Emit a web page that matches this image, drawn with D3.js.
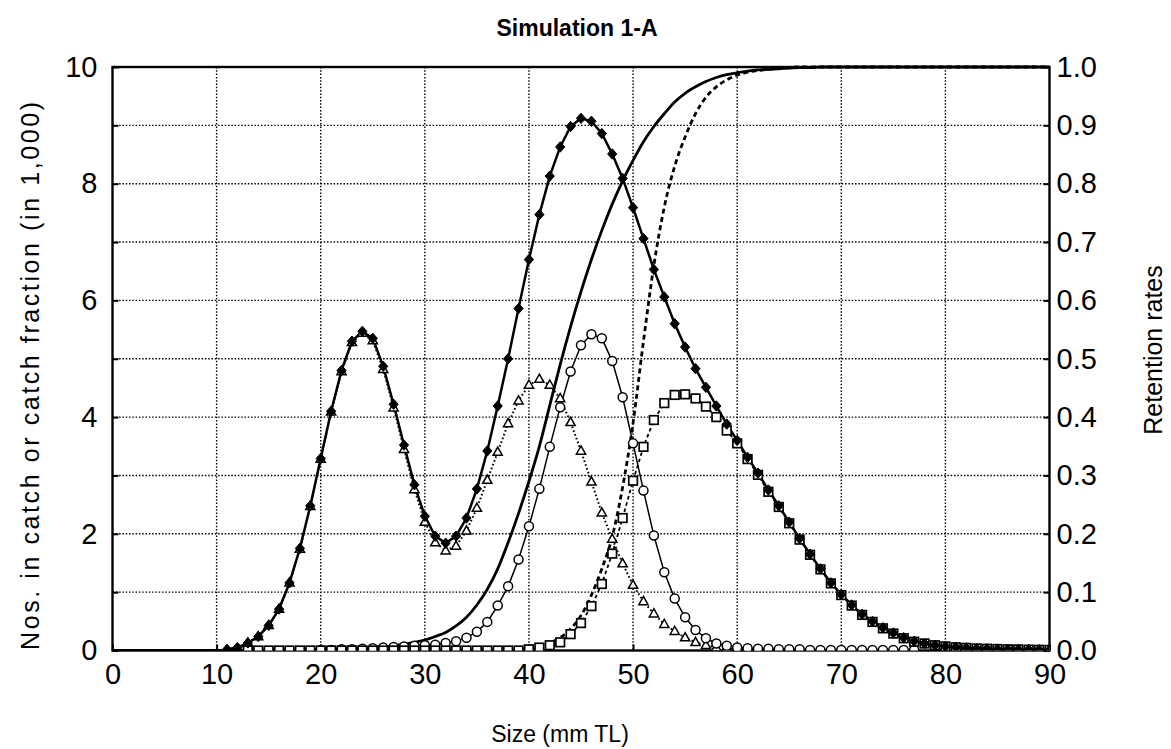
<!DOCTYPE html>
<html><head><meta charset="utf-8">
<script src="https://cdn.jsdelivr.net/npm/d3@7"></script>
<style>
body{margin:0;background:#fff}
svg{display:block}
text{font-family:"Liberation Sans",Arial,Helvetica,sans-serif;fill:#000}
</style>
</head><body>
<svg id="chart" width="1171" height="749"></svg>
<script>
// ---------- data ----------
const title = "Simulation 1-A";
const xLabel = "Size (mm TL)";
const yLabel = "Nos. in catch or catch fraction (in 1,000)";
const yRLabel = "Retention rates";

const xTicks = [0,10,20,30,40,50,60,70,80,90];
const yTicks = [0,2,4,6,8,10];
const yGridLines = [0,1,2,3,4,5,6,7,8,9,10];
const yRTicks = [0,0.1,0.2,0.3,0.4,0.5,0.6,0.7,0.8,0.9,1.0];

// total catch (filled diamonds), sizes 11..90
const totalStart = 11;
const totalCatch = [0.02,0.05,0.13,0.24,0.43,0.71,1.16,1.75,2.48,3.29,
  4.10,4.80,5.30,5.47,5.35,4.87,4.22,3.52,2.84,2.30,
  1.96,1.84,1.96,2.27,2.77,3.42,4.19,5.00,5.86,6.70,
  7.47,8.13,8.63,8.98,9.12,9.07,8.86,8.51,8.09,7.59,
  7.06,6.53,6.06,5.60,5.20,4.83,4.51,4.19,3.88,3.60,
  3.31,3.04,2.75,2.48,2.20,1.92,1.65,1.40,1.16,0.96,
  0.78,0.62,0.50,0.39,0.30,0.22,0.16,0.12,0.09,0.07,
  0.055,0.045,0.035,0.03,0.025,0.02,0.018,0.015,0.012,0.01];

// fraction escaping (open triangles), sizes 13..62
const triStart = 13;
const triCatch = [0.13,0.24,0.43,0.71,1.16,1.74,2.47,3.28,4.09,4.78,
  5.28,5.44,5.31,4.82,4.16,3.45,2.76,2.20,1.85,1.71,
  1.79,2.05,2.44,2.92,3.40,3.89,4.28,4.55,4.65,4.55,
  4.32,3.91,3.42,2.89,2.36,1.91,1.49,1.12,0.84,0.63,
  0.45,0.33,0.22,0.14,0.09,0.05,0.03,0.02,0.01,0.0];

// middle fraction (open circles), sizes 20..77
const circStart = 20;
const circCatch = [0.01,0.01,0.02,0.02,0.03,0.04,0.05,0.06,0.07,0.08,
  0.09,0.10,0.13,0.16,0.22,0.32,0.49,0.77,1.10,1.56,
  2.13,2.77,3.49,4.17,4.78,5.23,5.42,5.35,4.96,4.34,
  3.55,2.74,1.97,1.34,0.89,0.57,0.35,0.21,0.12,0.08,
  0.05,0.04,0.03,0.03,0.02,0.02,0.02,0.01,0.01,0.01,
  0.01,0.01,0.01,0.01,0.01,0.01,0.01,0.01];

// large fraction (open squares), sizes 13..90
const sqStart = 13;
const sqCatch = [0,0,0,0,0,0,0,0,0,0,
  0,0,0,0,0,0,0,0,0,0,
  0,0,0,0,0,0,0,0.02,0.05,0.09,
  0.14,0.28,0.47,0.76,1.14,1.66,2.27,2.91,3.49,3.95,
  4.24,4.38,4.39,4.32,4.18,4.00,3.77,3.55,3.28,3.01,
  2.72,2.46,2.18,1.90,1.64,1.39,1.15,0.95,0.77,0.61,
  0.49,0.38,0.29,0.21,0.15,0.12,0.09,0.07,0.055,0.045,
  0.035,0.03,0.025,0.02,0.018,0.015,0.012,0.01];

// retention curves (right axis), sizes 0..90
const retStart = 0;
const retention1 = [0,0,0,0,0,0,0,0,0,0,
  0,0,0,0,0,0,0.001,0.001,0.001,0.001,
  0.002,0.002,0.003,0.003,0.004,0.005,0.006,0.008,0.011,0.014,
  0.018,0.024,0.031,0.042,0.057,0.078,0.105,0.14,0.185,0.235,
  0.29,0.35,0.42,0.49,0.555,0.615,0.67,0.72,0.765,0.805,
  0.84,0.872,0.898,0.92,0.94,0.955,0.966,0.975,0.982,0.987,
  0.99,0.993,0.995,0.996,0.997,0.998,0.999,0.999,1,1,
  1,1,1,1,1,1,1,1,1,1,
  1,1,1,1,1,1,1,1,1,1,1];
const retention2 = [0,0,0,0,0,0,0,0,0,0,
  0,0,0,0,0,0,0,0,0,0,
  0,0,0,0,0,0,0,0,0,0,
  0,0,0,0,0,0,0,0,0,0.002,
  0.004,0.008,0.013,0.022,0.037,0.06,0.095,0.14,0.195,0.28,
  0.39,0.53,0.66,0.76,0.83,0.88,0.92,0.948,0.966,0.978,
  0.986,0.991,0.994,0.996,0.998,0.999,1,1,1,1,
  1,1,1,1,1,1,1,1,1,1,
  1,1,1,1,1,1,1,1,1,1,1];

// ---------- layout ----------
const svg = d3.select("#chart");
const L = 112.5, R = 1049.5, T = 67, B = 650.5;
const x = d3.scaleLinear().domain([0,90]).range([L,R]);
const y = d3.scaleLinear().domain([0,10]).range([B,T]);
const yR = d3.scaleLinear().domain([0,1]).range([B,T]);

const toPts = (start, arr) => arr.map((v,i)=>({s:start+i, v}));
const total = toPts(totalStart,totalCatch);
const tri = toPts(triStart,triCatch);
const circ = toPts(circStart,circCatch);
const sq = toPts(sqStart,sqCatch);
const r1 = toPts(retStart,retention1);
const r2 = toPts(retStart,retention2);

svg.append("defs").append("clipPath").attr("id","plotclip")
  .append("rect").attr("x",L).attr("y",T-2).attr("width",R-L).attr("height",B-T+2);

// grid
const grid = svg.append("g");
grid.selectAll("line.v").data(xTicks.slice(1,-1)).join("line")
  .attr("x1",d=>x(d)).attr("x2",d=>x(d)).attr("y1",T).attr("y2",B)
  .attr("stroke","#000").attr("stroke-width",1.4).attr("stroke-dasharray","1.5,1.8");
grid.selectAll("line.h").data(yGridLines.slice(1,-1)).join("line")
  .attr("y1",d=>y(d)).attr("y2",d=>y(d)).attr("x1",L).attr("x2",R)
  .attr("stroke","#000").attr("stroke-width",1.4).attr("stroke-dasharray","1.5,1.8");

// axes
const axL = d3.axisLeft(y).tickValues(yGridLines).tickSize(-6).tickPadding(15)
  .tickFormat(d=> yTicks.includes(d) ? d3.format("d")(d) : "");
const axR = d3.axisRight(yR).tickValues(yRTicks).tickSize(-6).tickPadding(7)
  .tickFormat(d3.format(".1f"));
const axB = d3.axisBottom(x).tickValues(xTicks).tickSize(-6).tickPadding(13)
  .tickFormat(d3.format("d"));

function styleAxis(g){
  g.select(".domain").remove();
  g.selectAll(".tick line").attr("stroke","#000").attr("stroke-width",2);
  g.selectAll(".tick text").style("font-size","29px");
}
svg.append("g").attr("transform",`translate(${L},0)`).call(axL).call(styleAxis);
svg.append("g").attr("transform",`translate(${R},0)`).call(axR).call(styleAxis);
svg.append("g").attr("transform",`translate(0,${B})`).call(axB).call(styleAxis);

// frame
svg.append("rect").attr("x",L).attr("y",T).attr("width",R-L).attr("height",B-T)
  .attr("fill","none").attr("stroke","#000").attr("stroke-width",2.4);

const plot = svg.append("g").attr("clip-path","url(#plotclip)");
const line = d3.line().x(d=>x(d.s)).y(d=>y(d.v));
const lineR = d3.line().x(d=>x(d.s)).y(d=>yR(d.v)).curve(d3.curveMonotoneX);

// retention curves
plot.append("path").datum(r1).attr("d",lineR).attr("fill","none")
  .attr("stroke","#000").attr("stroke-width",2.8);
plot.append("path").datum(r2).attr("d",lineR).attr("fill","none")
  .attr("stroke","#000").attr("stroke-width",2.8).attr("stroke-dasharray","5,3.5");

// series lines
plot.append("path").datum(tri).attr("d",line).attr("fill","none")
  .attr("stroke","#000").attr("stroke-width",2).attr("stroke-dasharray","1.6,2.4");
plot.append("path").datum(circ).attr("d",line).attr("fill","none")
  .attr("stroke","#000").attr("stroke-width",1.5);
plot.append("path").datum(sq).attr("d",line).attr("fill","none")
  .attr("stroke","#000").attr("stroke-width",1.8).attr("stroke-dasharray","3.5,3");
plot.append("path").datum(total).attr("d",line).attr("fill","none")
  .attr("stroke","#000").attr("stroke-width",2.5);

// markers
const triPath = "M0,-5L4.6,3.2L-4.6,3.2Z";
plot.append("g").selectAll("path").data(tri).join("path")
  .attr("transform",d=>`translate(${x(d.s)},${y(d.v)})`).attr("d",triPath)
  .attr("fill","#fff").attr("stroke","#000").attr("stroke-width",1.5);
plot.append("g").selectAll("circle").data(circ).join("circle")
  .attr("cx",d=>x(d.s)).attr("cy",d=>y(d.v)).attr("r",4.5)
  .attr("fill","#fff").attr("stroke","#000").attr("stroke-width",1.5);
plot.append("g").selectAll("rect").data(sq).join("rect")
  .attr("x",d=>x(d.s)-4.3).attr("y",d=>y(d.v)-4.3).attr("width",8.6).attr("height",8.6)
  .attr("fill","#fff").attr("stroke","#000").attr("stroke-width",1.7);
const diaPath = "M0,-5.2L4.6,0L0,5.2L-4.6,0Z";
plot.append("g").selectAll("path").data(total).join("path")
  .attr("transform",d=>`translate(${x(d.s)},${y(d.v)})`).attr("d",diaPath)
  .attr("fill","#000").attr("stroke","#000").attr("stroke-width",1);

// titles
svg.append("text").attr("x",577).attr("y",36).attr("text-anchor","middle")
  .style("font-size","23px").style("font-weight","bold").text(title);
svg.append("text").attr("x",560).attr("y",742).attr("text-anchor","middle")
  .style("font-size","23px").text(xLabel);
svg.append("text").attr("transform","translate(39,376) rotate(-90)").attr("text-anchor","middle")
  .style("font-size","25px").attr("textLength",548).attr("lengthAdjust","spacing").text(yLabel);
svg.append("text").attr("transform","translate(1162,350) rotate(-90)").attr("text-anchor","middle")
  .style("font-size","25px").text(yRLabel);
</script>
</body></html>
